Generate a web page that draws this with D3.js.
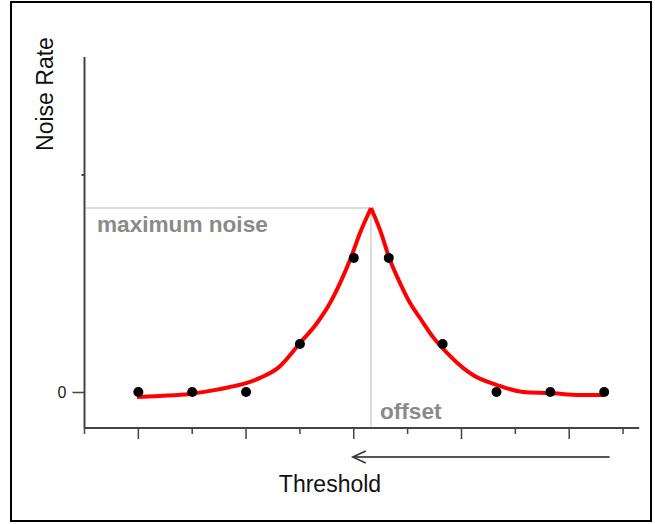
<!DOCTYPE html>
<html>
<head>
<meta charset="utf-8">
<script src="https://cdn.jsdelivr.net/npm/d3@7"></script>
<style>
  body { margin: 0; background: #fff; }
  svg { display: block; font-family: "Liberation Sans", Arial, sans-serif; }
</style>
</head>
<body>
<svg id="chart" width="655" height="524"></svg>
<script>
// measured points (threshold units, noise rate units)
const pointX = [1, 2, 3, 4, 5, 5.65, 6.65, 7.65, 8.65, 9.65];
const pointY = [0, 0, 0, 0.221, 0.618, 0.618, 0.221, 0, 0, 0];

// fitted curve
const fitX = [0.975, 1.402, 1.959, 2.331, 2.702, 2.999, 3.259, 3.593, 4.002, 4.318, 4.559, 4.745, 4.930, 5.116,
  5.320, 5.487, 5.673, 5.859, 6.045, 6.230, 6.472, 6.732, 7.029, 7.212, 7.660, 8.143, 8.644, 9.201, 9.628];
const fitY = [-0.023, -0.018, -0.009, 0.005, 0.023, 0.041, 0.065, 0.111, 0.226, 0.318, 0.410, 0.502, 0.608, 0.733,
  0.848, 0.747, 0.608, 0.502, 0.410, 0.341, 0.253, 0.180, 0.111, 0.078, 0.032, 0.0, -0.005, -0.014, -0.014];

const offsetX = 5.32;
const maxNoise = 0.848;
const xTicks = [0, 1, 2, 3, 4, 5, 6, 7, 8, 9, 10];
const yTicks = [0];

const svg = d3.select("#chart");

// frame
svg.append("rect")
    .attr("x", 11).attr("y", 2)
    .attr("width", 640).attr("height", 519)
    .attr("fill", "none")
    .attr("stroke", "#000")
    .attr("stroke-width", 2);

const x = d3.scaleLinear().domain([0, 10.3]).range([84.5, 639.2]);
const y = d3.scaleLinear().domain([-0.166, 1.544]).range([428, 57]);

const axisColor = "#444";

// x axis: alternating short / long ticks
svg.append("line")
    .attr("x1", x(0)).attr("x2", x(10.3))
    .attr("y1", y(-0.166)).attr("y2", y(-0.166))
    .attr("stroke", axisColor).attr("stroke-width", 2);

svg.selectAll(".xtick")
    .data(xTicks)
    .enter()
    .append("line")
    .attr("class", "xtick")
    .attr("x1", d => x(d)).attr("x2", d => x(d))
    .attr("y1", y(-0.166))
    .attr("y2", d => y(-0.166) + (d % 2 ? 11 : 6))
    .attr("stroke", axisColor).attr("stroke-width", 1.5);

// y axis
const yAxis = d3.axisLeft(y)
    .tickValues(yTicks)
    .tickSize(12)
    .tickPadding(6)
    .tickFormat(d3.format("d"));

const gy = svg.append("g")
    .attr("transform", `translate(${x(0)},0)`)
    .call(yAxis);
gy.attr("font-size", null).attr("font-family", null);
gy.select(".domain")
    .attr("d", `M0,${y(1.544)}V${y(-0.166)}`)
    .attr("stroke", axisColor).attr("stroke-width", 2);
gy.selectAll(".tick line").attr("stroke", axisColor).attr("stroke-width", 1.5);
gy.selectAll(".tick text")
    .style("font-size", "16px")
    .attr("fill", "#222");

// tiny tick at 1
svg.append("line")
    .attr("x1", x(0) - 3).attr("x2", x(0))
    .attr("y1", y(1)).attr("y2", y(1))
    .attr("stroke", axisColor).attr("stroke-width", 2);

// dotted guides to the peak
svg.append("path")
    .attr("d", `M${x(0)},${y(maxNoise)}H${x(offsetX)}V${y(-0.166)}`)
    .attr("fill", "none")
    .attr("stroke", "#777")
    .attr("stroke-width", 1)
    .attr("stroke-dasharray", "1,1");

svg.append("text")
    .attr("x", 97).attr("y", 232)
    .attr("font-size", 22.6).attr("font-weight", "bold")
    .attr("fill", "#8a8a8a")
    .text("maximum noise");

svg.append("text")
    .attr("x", x(offsetX) + 9).attr("y", 419)
    .attr("font-size", 22.6).attr("font-weight", "bold")
    .attr("fill", "#8a8a8a")
    .text("offset");

// fit curve, split at the cusp so the peak stays sharp
const line = d3.line()
    .x(d => x(d[0]))
    .y(d => y(d[1]))
    .curve(d3.curveMonotoneX);

const fit = fitX.map((v, i) => [v, fitY[i]]);
const peak = fitY.indexOf(d3.max(fitY));

svg.selectAll(".fit")
    .data([fit.slice(0, peak + 1), fit.slice(peak)])
    .enter()
    .append("path")
    .attr("class", "fit")
    .attr("d", line)
    .attr("fill", "none")
    .attr("stroke", "#ff0000")
    .attr("stroke-width", 4)
    .attr("stroke-linejoin", "miter");

// measured points
svg.selectAll(".pt")
    .data(pointX.map((v, i) => [v, pointY[i]]))
    .enter()
    .append("circle")
    .attr("class", "pt")
    .attr("cx", d => x(d[0]))
    .attr("cy", d => y(d[1]))
    .attr("r", 5)
    .attr("fill", "#000");

// arrow pointing towards lower threshold
const ay = 457;
svg.append("line")
    .attr("x1", x(9.75)).attr("x2", x(4.98))
    .attr("y1", ay).attr("y2", ay)
    .attr("stroke", "#555").attr("stroke-width", 2);
svg.append("path")
    .attr("d", `M${x(4.98) + 13},${ay - 6}L${x(4.98)},${ay}L${x(4.98) + 13},${ay + 6}`)
    .attr("fill", "none")
    .attr("stroke", "#333").attr("stroke-width", 1.5);

// axis titles
svg.append("text")
    .attr("x", 330).attr("y", 492)
    .attr("text-anchor", "middle")
    .attr("font-size", 23)
    .attr("fill", "#111")
    .text("Threshold");

svg.append("text")
    .attr("transform", "translate(53,94) rotate(-90)")
    .attr("text-anchor", "middle")
    .attr("font-size", 23)
    .attr("fill", "#111")
    .text("Noise Rate");
</script>
</body>
</html>
